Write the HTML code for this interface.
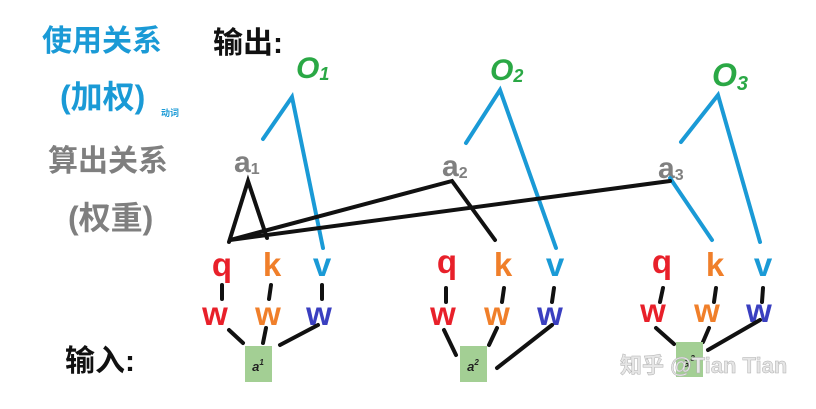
<!DOCTYPE html>
<html><head><meta charset="utf-8">
<style>
html,body{margin:0;padding:0;background:#fff;width:816px;height:409px;overflow:hidden}
svg{display:block}
text{font-family:"Liberation Sans","Noto Sans CJK SC",sans-serif;font-weight:bold}
</style></head>
<body>
<svg width="816" height="409" viewBox="0 0 816 409">
<text x="42" y="51" font-size="30" fill="#1a9ad6">使用关系</text>
<text x="60" y="108" font-size="32" fill="#1a9ad6">(加权)</text>
<text x="161" y="116" font-size="9" fill="#1a9ad6" font-weight="normal">动词</text>
<text x="48" y="171" font-size="30" fill="#7f7f7f">算出关系</text>
<text x="68" y="229" font-size="32" fill="#7f7f7f">(权重)</text>
<text x="213" y="53" font-size="30" fill="#111">输出:</text>
<text x="65" y="371" font-size="30" fill="#111">输入:</text>

<text x="296" y="78" font-size="30" fill="#2aa845" font-weight="normal" font-style="italic">O<tspan font-size="18" dy="2">1</tspan></text>
<text x="490" y="80" font-size="30" fill="#2aa845" font-weight="normal" font-style="italic">O<tspan font-size="18" dy="2">2</tspan></text>
<text x="712" y="86" font-size="32" fill="#2aa845" font-weight="normal" font-style="italic">O<tspan font-size="20" dy="4">3</tspan></text>

<text x="234" y="172" font-size="30" fill="#808080" font-weight="normal">a<tspan font-size="16" dy="2">1</tspan></text>
<text x="442" y="176" font-size="30" fill="#808080" font-weight="normal">a<tspan font-size="16" dy="2">2</tspan></text>
<text x="658" y="178" font-size="30" fill="#808080" font-weight="normal">a<tspan font-size="16" dy="2">3</tspan></text>

<g stroke="#1a9ad6" stroke-width="4" fill="none" stroke-linecap="round">
<polyline points="263,139 292,97 323,248"/>
<polyline points="466,143 500,90 556,248"/>
<polyline points="681,142 718,95 760,242"/>
<line x1="670" y1="178" x2="712" y2="240"/>
</g>

<g stroke="#111" stroke-width="4" fill="none" stroke-linecap="round">
<polyline points="229,242 248,181 267,238"/>
<polyline points="230,240 452,181 495,240"/>
<line x1="230" y1="240" x2="670" y2="181"/>
</g>

<g font-size="33">
<text x="222" y="276" text-anchor="middle" fill="#e8202a">q</text>
<text x="272" y="276" text-anchor="middle" fill="#f07f2a">k</text>
<text x="322" y="276" text-anchor="middle" fill="#1a9ad6">v</text>
<text x="215" y="325" text-anchor="middle" fill="#e8202a">w</text>
<text x="268" y="325" text-anchor="middle" fill="#f07f2a">w</text>
<text x="319" y="325" text-anchor="middle" fill="#3a3fc0">w</text>
</g>
<g font-size="33">
<text x="447" y="273" text-anchor="middle" fill="#e8202a">q</text>
<text x="503" y="276" text-anchor="middle" fill="#f07f2a">k</text>
<text x="555" y="276" text-anchor="middle" fill="#1a9ad6">v</text>
<text x="443" y="325" text-anchor="middle" fill="#e8202a">w</text>
<text x="497" y="325" text-anchor="middle" fill="#f07f2a">w</text>
<text x="550" y="325" text-anchor="middle" fill="#3a3fc0">w</text>
</g>
<g font-size="33">
<text x="662" y="273" text-anchor="middle" fill="#e8202a">q</text>
<text x="715" y="276" text-anchor="middle" fill="#f07f2a">k</text>
<text x="763" y="276" text-anchor="middle" fill="#1a9ad6">v</text>
<text x="653" y="322" text-anchor="middle" fill="#e8202a">w</text>
<text x="707" y="322" text-anchor="middle" fill="#f07f2a">w</text>
<text x="759" y="322" text-anchor="middle" fill="#3a3fc0">w</text>
</g>

<g stroke="#111" stroke-width="4" stroke-linecap="round">
<line x1="222" y1="285" x2="222" y2="299"/><line x1="271" y1="285" x2="269" y2="299"/><line x1="322" y1="285" x2="322" y2="299"/>
<line x1="229" y1="330" x2="243" y2="343"/><line x1="266" y1="328" x2="263" y2="343"/><line x1="318" y1="325" x2="280" y2="345"/>
<line x1="446" y1="288" x2="446" y2="302"/><line x1="504" y1="288" x2="502" y2="302"/><line x1="554" y1="288" x2="552" y2="302"/>
<line x1="444" y1="330" x2="456" y2="355"/><line x1="497" y1="328" x2="489" y2="345"/><line x1="552" y1="325" x2="497" y2="368"/>
<line x1="663" y1="288" x2="660" y2="302"/><line x1="716" y1="288" x2="714" y2="302"/><line x1="763" y1="288" x2="762" y2="302"/>
<line x1="656" y1="328" x2="674" y2="344"/><line x1="709" y1="328" x2="703" y2="342"/><line x1="760" y1="320" x2="708" y2="350"/>
</g>

<g>
<rect x="245" y="346" width="27" height="36" fill="#a3cf94"/>
<text x="258" y="371" font-size="13" font-family="Liberation Serif,serif" font-style="italic" font-weight="normal" text-anchor="middle" fill="#222">a<tspan font-size="8" dy="-6">1</tspan></text>
</g>
<g>
<rect x="460" y="346" width="27" height="36" fill="#a3cf94"/>
<text x="473" y="371" font-size="13" font-family="Liberation Serif,serif" font-style="italic" font-weight="normal" text-anchor="middle" fill="#222">a<tspan font-size="8" dy="-6">2</tspan></text>
</g>
<g>
<rect x="676" y="342" width="27" height="35" fill="#a3cf94"/>
<text x="689" y="367" font-size="13" font-family="Liberation Serif,serif" font-style="italic" font-weight="normal" text-anchor="middle" fill="#222">a<tspan font-size="8" dy="-6">3</tspan></text>
</g>

<text x="620" y="373" font-size="22" font-weight="normal" fill="#e6e6e6" stroke="#b0b0b0" stroke-width="0.5">知乎 @Tian Tian</text>
</svg>
</body></html>
